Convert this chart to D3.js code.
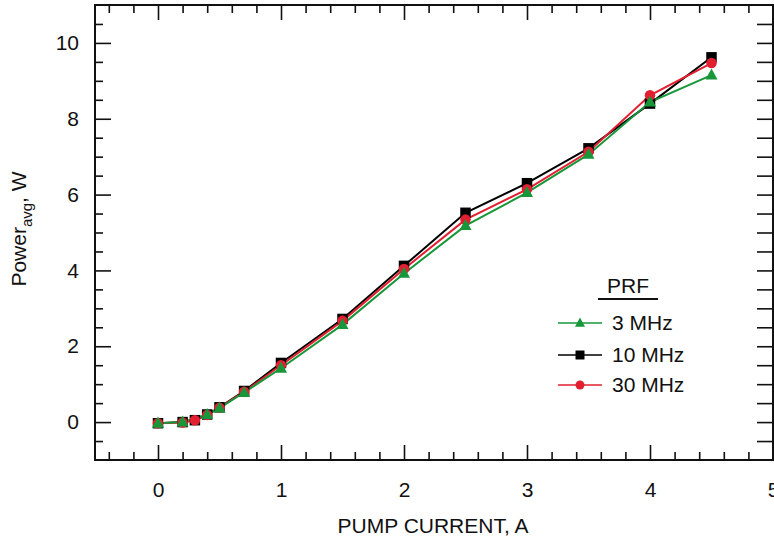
<!DOCTYPE html>
<html>
<head>
<meta charset="utf-8">
<style>
  body { margin: 0; background: #fff; }
  svg text { font-family: "Liberation Sans", Arial, Helvetica, sans-serif; fill: #111; }
</style>
</head>
<body>
<div id="chart"></div>
<script src="https://cdn.jsdelivr.net/npm/d3@7"></script>
<script>
// data
const current3 = [0, 0.2, 0.4, 0.5, 0.7, 1.0, 1.5, 2.0, 2.5, 3.0, 3.5, 4.0, 4.5];
const power3 = [-0.03, 0.0, 0.2, 0.37, 0.78, 1.42, 2.57, 3.92, 5.18, 6.05, 7.06, 8.44, 9.15];

const current10 = [0, 0.2, 0.3, 0.4, 0.5, 0.7, 1.0, 1.5, 2.0, 2.5, 3.0, 3.5, 4.0, 4.5];
const power10 = [-0.03, 0.0, 0.05, 0.2, 0.39, 0.82, 1.56, 2.72, 4.12, 5.52, 6.3, 7.22, 8.4, 9.62];

const current30 = [0, 0.2, 0.3, 0.4, 0.5, 0.7, 1.0, 1.5, 2.0, 2.5, 3.0, 3.5, 4.0, 4.5];
const power30 = [-0.03, -0.01, 0.05, 0.19, 0.38, 0.8, 1.5, 2.67, 4.04, 5.34, 6.14, 7.13, 8.62, 9.47];

const seriesNames = ["3 MHz", "10 MHz", "30 MHz"];
const xTicks = [0, 1, 2, 3, 4, 5];
const yTicks = [0, 2, 4, 6, 8, 10];

const width = 774, height = 540;
const frameL = 95, frameR = 773, frameT = 5, frameB = 460;
const fs = "21px";

const svg = d3.select("#chart").append("svg")
  .attr("width", width).attr("height", height);

const x = d3.scaleLinear().domain([-0.5, 5]).range([96.5, 773]);
const y = d3.scaleLinear().domain([-1, 11]).range([frameB, frameT]);

const xMinor = d3.range(-0.4, 5.0, 0.2).map(v => +v.toFixed(1)).filter(v => Math.abs(v - Math.round(v)) > 1e-6);
const yMinor = d3.range(-0.5, 11, 0.5).filter(v => v % 2 !== 0);

function styleAxis(g) {
  g.select(".domain").remove();
  g.selectAll(".tick line").attr("stroke", "#111").attr("stroke-width", 1.6);
  g.selectAll(".tick text").style("font-size", fs).attr("fill", "#111");
}

// bottom
svg.append("g").attr("transform", `translate(0,${frameB})`)
  .call(d3.axisBottom(x).tickValues(xTicks).tickFormat(d3.format("d")).tickSize(-15).tickPadding(22))
  .call(styleAxis);
svg.append("g").attr("transform", `translate(0,${frameB})`)
  .call(d3.axisBottom(x).tickValues(xMinor).tickFormat("").tickSize(-8))
  .call(styleAxis);
// top
svg.append("g").attr("transform", `translate(0,${frameT})`)
  .call(d3.axisTop(x).tickValues(xTicks).tickFormat("").tickSize(-15))
  .call(styleAxis);
svg.append("g").attr("transform", `translate(0,${frameT})`)
  .call(d3.axisTop(x).tickValues(xMinor).tickFormat("").tickSize(-8))
  .call(styleAxis);
// left
svg.append("g").attr("transform", `translate(${frameL},0)`)
  .call(d3.axisLeft(y).tickValues(yTicks).tickFormat(d3.format("d")).tickSize(-16).tickPadding(16))
  .call(styleAxis);
svg.append("g").attr("transform", `translate(${frameL},0)`)
  .call(d3.axisLeft(y).tickValues(yMinor).tickFormat("").tickSize(-8))
  .call(styleAxis);
// right (all ticks same length)
svg.append("g").attr("transform", `translate(${frameR},0)`)
  .call(d3.axisRight(y).tickValues(yTicks.concat(yMinor)).tickFormat("").tickSize(-16))
  .call(styleAxis);

// frame
svg.append("rect")
  .attr("x", frameL).attr("y", frameT)
  .attr("width", frameR - frameL).attr("height", frameB - frameT)
  .attr("fill", "none").attr("stroke", "#111").attr("stroke-width", 2);

// axis titles
svg.append("text")
  .attr("x", 433).attr("y", 533)
  .attr("text-anchor", "middle")
  .style("font-size", fs)
  .text("PUMP CURRENT, A");

const yl = svg.append("text")
  .attr("transform", "translate(26,229) rotate(-90)")
  .attr("text-anchor", "middle")
  .style("font-size", fs);
yl.append("tspan").text("Power");
yl.append("tspan").attr("dy", 6).style("font-size", "15px").text("avg");
yl.append("tspan").attr("dy", -6).text(", W");

// series
const green = "#17973a", black = "#000000", red = "#e21f30";
const series = [
  { name: seriesNames[0], xs: current3, ys: power3, color: green, shape: "tri" },
  { name: seriesNames[1], xs: current10, ys: power10, color: black, shape: "sq" },
  { name: seriesNames[2], xs: current30, ys: power30, color: red, shape: "circ" }
];

const line = d3.line().x(d => x(d[0])).y(d => y(d[1]));

function symbolPath(shape, s) {
  if (shape === "sq") return d3.symbol(d3.symbolSquare, s * s)();
  if (shape === "circ") return d3.symbol(d3.symbolCircle, Math.PI * s * s / 4)();
  const h = s * 0.92;
  return `M0,${-h * 0.6}L${s / 2},${h * 0.4}L${-s / 2},${h * 0.4}Z`;
}

// lines first (black, red, green), then markers in the same order
const order = [series[1], series[2], series[0]];
order.forEach(s => {
  svg.append("path")
    .datum(s.xs.map((v, i) => [v, s.ys[i]]))
    .attr("d", line)
    .attr("fill", "none")
    .attr("stroke", s.color)
    .attr("stroke-width", 2);
});
order.forEach(s => {
  svg.append("g").selectAll("path")
    .data(s.xs.map((v, i) => [v, s.ys[i]]))
    .join("path")
    .attr("transform", d => `translate(${x(d[0])},${y(d[1])})`)
    .attr("d", symbolPath(s.shape, s.shape === "tri" ? 12 : 10.5))
    .attr("fill", s.color);
});

// legend
const lg = svg.append("g");
lg.append("text").attr("x", 628).attr("y", 293)
  .attr("text-anchor", "middle").style("font-size", fs).text("PRF");
lg.append("line").attr("x1", 598).attr("x2", 658).attr("y1", 299).attr("y2", 299)
  .attr("stroke", "#111").attr("stroke-width", 2);

const legendY = [323, 355, 385];
series.forEach((s, i) => {
  const gy = legendY[i];
  lg.append("line").attr("x1", 558).attr("x2", 602).attr("y1", gy).attr("y2", gy)
    .attr("stroke", s.color).attr("stroke-width", 1.5);
  lg.append("path").attr("transform", `translate(580,${gy})`)
    .attr("d", symbolPath(s.shape, s.shape === "tri" ? 10 : 9)).attr("fill", s.color);
  lg.append("text").attr("x", 612).attr("y", gy + 7).style("font-size", fs).text(s.name);
});
</script>
</body>
</html>
